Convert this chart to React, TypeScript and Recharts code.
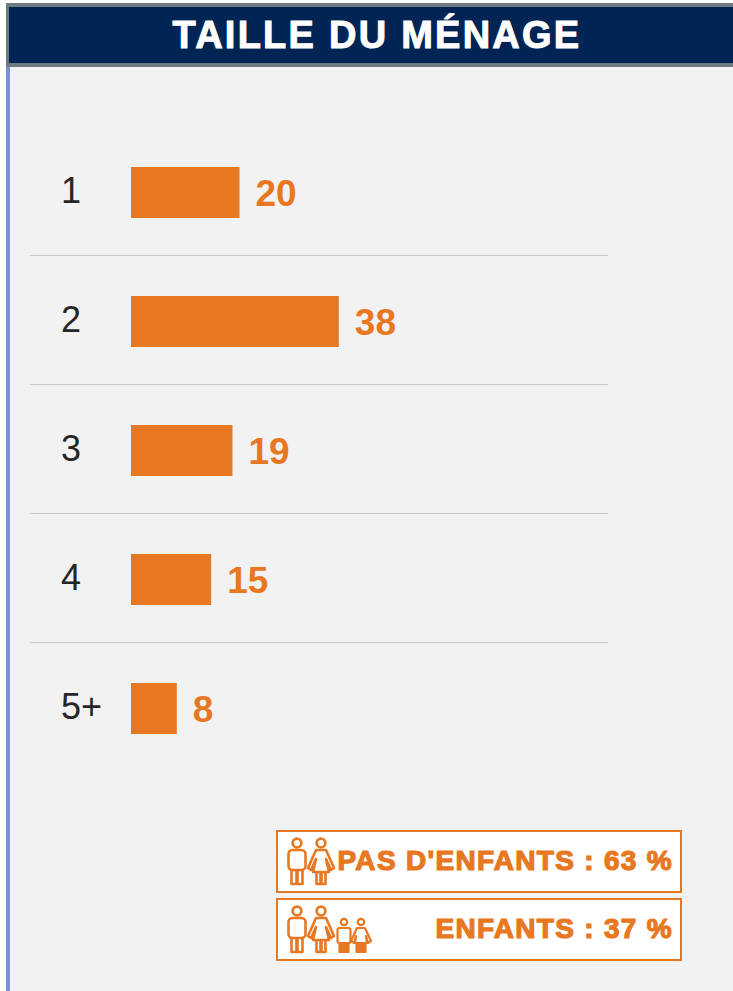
import { BarChart, Bar, XAxis, YAxis, LabelList } from "recharts";

const categories = ["1", "2", "3", "4", "5+"];
// the labels show them rounded
const values = [19.9, 38.1, 18.6, 14.7, 8.4];
const tableData = categories.map((name, i) => ({ name, value: values[i] }));

const title = "TAILLE DU MÉNAGE";
const noKidsLabel = "PAS D'ENFANTS : 63 %";
const kidsLabel = "ENFANTS : 37 %";

const ORANGE = "#e87722";

// Category label plus the thin separator under the row
function RowTick({ y, payload, index }: any) {
  return (
    <g>
      <text
        x={61}
        y={y - 2}
        fontSize={36}
        fill="#262626"
        dominantBaseline="central"
        fontFamily="'Liberation Sans', Arial, sans-serif"
      >
        {payload.value}
      </text>
      {index < categories.length - 1 && (
        <line x1={30} x2={608} y1={y + 63} y2={y + 63} stroke="#c8c8c8" strokeWidth={1} />
      )}
    </g>
  );
}

function AdultIcons() {
  return (
    <g fill="none" stroke={ORANGE} strokeWidth={2.6} strokeLinejoin="round">
      <circle cx={21} cy={13} r={4.4} />
      <rect x={12.5} y={20} width={17} height={20} rx={4} />
      <path d="M15.5 40 L15.5 54 L20.5 54 L20.5 40 M21.5 40 L21.5 54 L26.5 54 L26.5 40" />
      <circle cx={45} cy={13} r={4.4} />
      <path d="M40 20 L50 20 L58 38 L55 40 L50 29 L53 42 L37 42 L40 29 L35 40 L32 38 Z" />
      <path d="M40.5 42 L40.5 54 L44.5 54 L44.5 42 M45.5 42 L45.5 54 L49.5 54 L49.5 42" />
    </g>
  );
}

function KidIcons() {
  return (
    <g fill="none" stroke={ORANGE} strokeWidth={2.2} strokeLinejoin="round">
      <circle cx={68} cy={24} r={3.2} />
      <rect x={61.5} y={30} width={13} height={15} rx={2} />
      <path d="M63.5 45 L63.5 54 L67.5 54 L67.5 45 M68.5 45 L68.5 54 L72.5 54 L72.5 45" fill={ORANGE} />
      <circle cx={85} cy={24} r={3.2} />
      <path d="M81 30 L89 30 L95 43 L92 45 L90 38 L91 45 L79 45 L80 38 L78 45 L75 43 Z" />
      <path d="M80.5 45 L80.5 54 L84.5 54 L84.5 45 M85.5 45 L85.5 54 L89.5 54 L89.5 45" fill={ORANGE} />
    </g>
  );
}

function InfoBox({ top, label, kids }: { top: number; label: string; kids?: boolean }) {
  return (
    <div
      style={{
        position: "absolute",
        left: 276,
        top,
        width: 402,
        height: 59,
        background: "#fff",
        border: `2px solid ${ORANGE}`,
      }}
    >
      <svg width={110} height={63} style={{ position: "absolute", left: -2, top: -2 }}>
        <AdultIcons />
        {kids && <KidIcons />}
      </svg>
      <div
        style={{
          position: "absolute",
          right: 7,
          top: 12,
          fontFamily: "'Liberation Sans', Arial, sans-serif",
          fontWeight: 700,
          fontSize: 28,
          lineHeight: "34px",
          letterSpacing: 1.3,
          color: ORANGE,
          WebkitTextStroke: `1.2px ${ORANGE}`,
          whiteSpace: "nowrap",
        }}
      >
        {label}
      </div>
    </div>
  );
}

export default function App() {
  return (
    <div style={{ position: "absolute", left: 0, top: 0, width: 733, height: 991, background: "#fff", overflow: "hidden" }}>
      <div style={{ position: "absolute", left: 6, top: 67, width: 727, height: 924, background: "#f2f2f2" }} />
      <div style={{ position: "absolute", left: 6, top: 67, width: 4, height: 924, background: "#7b90dc" }} />
      <div
        style={{
          position: "absolute",
          left: 6,
          top: 3,
          width: 724,
          height: 56,
          background: "#002454",
          borderTop: "4px solid #6d7b80",
          borderLeft: "3px solid #6d7b80",
          borderBottom: "4px solid #6d7b80",
          color: "#fff",
          fontFamily: "'Liberation Sans', Arial, sans-serif",
          fontWeight: 700,
          fontSize: 38,
          letterSpacing: 2.25,
          lineHeight: "56px",
          textAlign: "center",
        }}
      >
        <span style={{ position: "relative", left: 6, WebkitTextStroke: "1px #fff" }}>{title}</span>
      </div>
      <div style={{ position: "absolute", left: 0, top: 0 }}>
        <BarChart
          width={733}
          height={991}
          data={tableData}
          layout="vertical"
          margin={{ top: 128, right: 62, bottom: 218, left: 30 }}
          barCategoryGap={39}
        >
          <XAxis type="number" hide domain={[0, 99]} />
          <YAxis
            type="category"
            dataKey="name"
            width={101}
            axisLine={false}
            tickLine={false}
            tick={(props: any) => <RowTick {...props} />}
            interval={0}
          />
          <Bar dataKey="value" fill={ORANGE} isAnimationActive={false}>
            <LabelList
              dataKey="value"
              position="right"
              offset={16}
              formatter={(v: number) => Math.round(v)}
              fill={ORANGE}
              fontSize={37}
              fontWeight={700}
              fontFamily="'Liberation Sans', Arial, sans-serif"
            />
          </Bar>
        </BarChart>
      </div>
      <InfoBox top={830} label={noKidsLabel} />
      <InfoBox top={898} label={kidsLabel} kids />
    </div>
  );
}
